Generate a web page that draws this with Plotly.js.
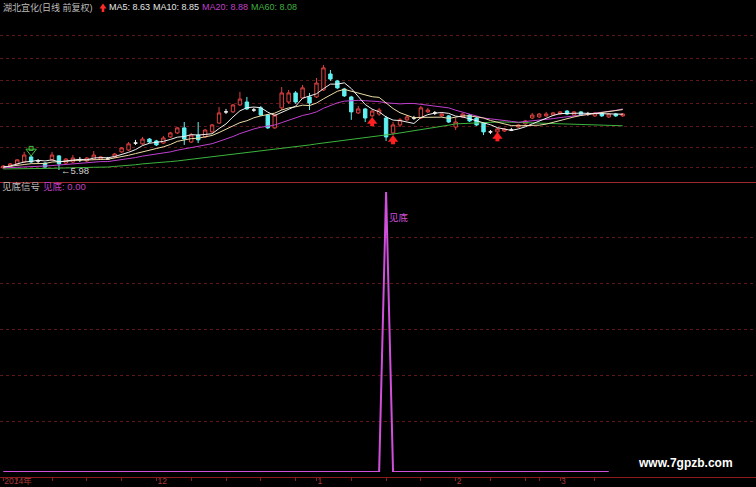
<!DOCTYPE html>
<html>
<head>
<meta charset="utf-8">
<script src="https://cdn.plot.ly/plotly-3.0.1.min.js"></script>
<style>
html, body { margin: 0; padding: 0; background: #000; }
#chart { width: 756px; height: 487px; }
</style>
</head>
<body>
<div id="chart"></div>
<script>
// 湖北宜化 daily bars, 2014-10-30 .. 2015-03-12 (forward adjusted)
const open = [6.08,6.12,6.27,6.36,6.60,6.41,6.31,6.46,6.65,6.31, 6.36,6.46,6.41,6.50,6.50,6.50,6.60,6.84,6.93,7.26,
  7.22,7.45,7.36,7.26,7.55,7.74,7.98,7.31,7.64,7.55, 7.79,8.21,8.74,8.74,9.07,9.21,8.83,8.93,8.59,7.98,
  8.93,9.21,9.64,9.40,9.45,9.45,9.78,10.54,10.21,9.83, 9.45,8.69,8.88,8.55,8.64,8.45,7.74,8.12,8.36,8.45,
  8.45,8.74,8.69,8.55,8.55,8.02,8.50,8.59,8.45,8.21, 7.79,7.79,7.83,7.88,8.02,8.17,8.45,8.50,8.55,8.59,
  8.64,8.78,8.59,8.74,8.64,8.55,8.69,8.50,8.64,8.55];
const high = [6.22,6.31,6.50,6.84,6.69,6.50,6.36,6.84,6.69,6.55, 6.69,6.60,6.60,6.88,6.65,6.60,6.79,7.07,7.31,7.41,
  7.55,7.50,7.41,7.60,7.79,8.02,8.26,7.74,8.26,7.93, 8.17,8.97,8.88,9.12,9.69,9.45,8.93,9.02,8.64,8.64,
  9.92,9.78,9.73,10.02,9.64,10.35,10.97,10.73,10.26,9.88, 9.50,9.02,8.93,8.88,8.93,8.55,8.26,8.45,8.59,8.55,
  9.02,8.93,8.78,8.74,8.59,8.45,8.69,8.64,8.50,8.26, 7.88,7.98,7.98,7.98,8.17,8.36,8.69,8.69,8.74,8.74,
  8.78,8.83,8.78,8.78,8.74,8.74,8.74,8.69,8.69,8.69];
const low = [6.03,6.08,6.22,6.31,6.31,6.31,6.08,6.41,5.98,6.27, 6.31,6.36,6.36,6.46,6.46,6.46,6.55,6.79,6.88,7.17,
  7.17,7.26,7.12,7.22,7.50,7.69,7.17,7.26,7.26,7.50, 7.74,8.17,8.64,8.69,9.02,8.83,8.74,8.55,7.93,7.93,
  8.83,9.12,9.12,9.35,8.83,9.40,9.73,10.21,9.83,9.45, 8.36,8.64,8.26,8.50,8.55,7.36,7.64,8.02,8.31,8.36,
  8.40,8.69,8.59,8.50,8.21,7.88,8.45,8.26,8.07,7.64, 7.69,7.74,7.79,7.83,7.98,8.12,8.40,8.45,8.50,8.55,
  8.59,8.59,8.55,8.55,8.55,8.50,8.50,8.45,8.50,8.50];
const close = [6.17,6.27,6.46,6.69,6.36,6.41,6.12,6.69,6.27,6.50, 6.55,6.46,6.55,6.69,6.60,6.50,6.74,7.03,7.22,7.26,
  7.45,7.31,7.17,7.50,7.74,7.98,7.45,7.64,7.41,7.88, 8.12,8.69,8.74,9.07,9.35,8.88,8.83,8.59,7.98,8.59,
  9.64,9.64,9.21,9.88,9.16,10.11,10.83,10.30,9.88,9.50, 8.74,8.88,8.45,8.78,8.83,7.55,8.12,8.36,8.50,8.45,
  8.93,8.83,8.69,8.64,8.26,8.26,8.64,8.31,8.12,7.79, 7.79,7.93,7.93,7.88,8.12,8.31,8.59,8.64,8.64,8.69,
  8.74,8.64,8.74,8.59,8.64,8.69,8.55,8.64,8.55,8.64];

// moving averages
const ma5 = [6.12,6.17,6.27,6.36,6.39,6.44,6.41,6.46,6.37,6.40, 6.43,6.49,6.46,6.55,6.57,6.56,6.62,6.71,6.82,6.95,
  7.14,7.25,7.28,7.34,7.43,7.54,7.57,7.66,7.64,7.67, 7.70,7.95,8.17,8.50,8.79,8.94,8.97,8.94,8.73,8.57,
  8.73,8.89,9.01,9.39,9.51,9.60,9.84,10.06,10.06,10.12, 9.85,9.46,9.09,8.87,8.74,8.50,8.35,8.33,8.27,8.19,
  8.47,8.61,8.68,8.71,8.67,8.54,8.50,8.42,8.32,8.22, 8.13,7.99,7.91,7.86,7.93,8.03,8.17,8.31,8.46,8.57,
  8.66,8.67,8.69,8.68,8.67,8.66,8.64,8.62,8.61,8.63];
const ma10 = [6.12,6.15,6.19,6.24,6.28,6.28,6.29,6.36,6.37,6.39, 6.43,6.45,6.46,6.46,6.48,6.49,6.55,6.59,6.68,6.76,
  6.85,6.94,7.00,7.08,7.19,7.34,7.41,7.47,7.49,7.55, 7.62,7.76,7.91,8.07,8.23,8.32,8.46,8.55,8.61,8.68,
  8.83,8.93,8.98,9.06,9.04,9.16,9.36,9.53,9.72,9.81, 9.72,9.65,9.57,9.46,9.43,9.17,8.90,8.70,8.57,8.46,
  8.48,8.48,8.50,8.49,8.43,8.50,8.55,8.55,8.51,8.45, 8.33,8.24,8.17,8.09,8.08,8.08,8.08,8.11,8.16,8.25,
  8.35,8.42,8.50,8.57,8.62,8.66,8.70,8.74,8.79,8.85];
const ma20 = [6.08,6.09,6.10,6.11,6.13,6.15,6.17,6.19,6.22,6.24, 6.28,6.30,6.33,6.35,6.38,6.38,6.42,6.47,6.52,6.57,
  6.64,6.69,6.73,6.77,6.84,6.92,6.98,7.03,7.09,7.15, 7.23,7.34,7.45,7.57,7.71,7.83,7.93,8.01,8.05,8.12,
  8.23,8.34,8.45,8.57,8.64,8.74,8.91,9.04,9.17,9.25, 9.28,9.29,9.27,9.26,9.23,9.17,9.13,9.12,9.14,9.14,
  9.10,9.06,9.03,8.97,8.93,8.82,8.73,8.63,8.54,8.45, 8.41,8.36,8.33,8.29,8.25,8.28,8.31,8.35,8.39,8.42,
  8.47,8.50,8.54,8.58,8.62,8.68,8.72,8.77,8.81,8.88];
const ma60 = [6.03,6.03,6.03,6.04,6.04,6.05,6.06,6.06,6.07,6.07, 6.08,6.09,6.10,6.11,6.11,6.12,6.15,6.17,6.20,6.23,
  6.27,6.29,6.32,6.35,6.38,6.41,6.45,6.48,6.52,6.56, 6.60,6.64,6.67,6.71,6.75,6.79,6.83,6.86,6.90,6.94,
  6.98,7.03,7.07,7.12,7.17,7.22,7.26,7.31,7.36,7.41, 7.45,7.49,7.53,7.57,7.60,7.64,7.69,7.74,7.79,7.83,
  7.88,7.94,7.99,8.05,8.11,8.17,8.19,8.21,8.23,8.25, 8.26,8.26,8.26,8.25,8.25,8.24,8.23,8.22,8.21,8.20,
  8.19,8.17,8.16,8.15,8.13,8.12,8.11,8.10,8.09,8.08];

// 见底 indicator (needs two future bars, so it stops two bars early)
const signal = [0,0,0,0,0,0,0,0,0,0, 0,0,0,0,0,0,0,0,0,0, 0,0,0,0,0,0,0,0,0,0,
  0,0,0,0,0,0,0,0,0,0, 0,0,0,0,0,0,0,0,0,0, 0,0,0,0,0,1,0,0,0,0,
  0,0,0,0,0,0,0,0,0,0, 0,0,0,0,0,0,0,0,0,0, 0,0,0,0,0,0,0,0];

// chart marks: red buy arrows (tip level) below bars, green hollow arrow (tip level) above a bar
const buyBars = [53, 56, 71];
const buyArrowTip = [8.36, 7.50, 7.64];
const warnBars = [4];
const warnArrowTip = [6.79];

// date axis: week starts, month labels
const tickBars = [0, 2, 7, 12, 17, 22, 27, 32, 37, 42, 45, 50, 55, 60, 65, 70, 75, 77, 80, 85];
const tickText = ['2014年', '', '', '', '', '12', '', '', '', '', '1', '', '', '', '2', '', '', '', '3', ''];

const FONT = 'Liberation Sans, Noto Sans CJK SC, sans-serif';
const PW = 756, PH = 477;
const px = x => x / PW;
const py = y => (PH - y) / PH;

const bars = open.map((_, i) => i);
const isDoji = i => open[i] === close[i];
const bodyIdx = bars.filter(i => !isDoji(i));
const dojiIdx = bars.filter(isDoji);
const pick = (arr, idx) => idx.map(i => arr[i]);

const UP = '#e04040', DOWN = '#60f0f0';
const ARROW_STEP = 0.12;   // price span of one arrow part

const traces = [
  { type: 'scatter', mode: 'lines', x: bars, y: ma60, line: { color: '#3cb43c', width: 1 }, xaxis: 'x', yaxis: 'y', hoverinfo: 'skip' },
  { type: 'scatter', mode: 'lines', x: bars, y: ma20, line: { color: '#c040d0', width: 1 }, xaxis: 'x', yaxis: 'y', hoverinfo: 'skip' },
  { type: 'scatter', mode: 'lines', x: bars, y: ma10, line: { color: '#ecdca8', width: 1 }, xaxis: 'x', yaxis: 'y', hoverinfo: 'skip' },
  { type: 'scatter', mode: 'lines', x: bars, y: ma5, line: { color: '#f0f0f0', width: 1 }, xaxis: 'x', yaxis: 'y', hoverinfo: 'skip' },
  {
    type: 'candlestick', x: bodyIdx,
    open: pick(open, bodyIdx), high: pick(high, bodyIdx), low: pick(low, bodyIdx), close: pick(close, bodyIdx),
    increasing: { line: { color: UP, width: 1 }, fillcolor: '#000' },
    decreasing: { line: { color: DOWN, width: 1 }, fillcolor: DOWN },
    whiskerwidth: 0, xaxis: 'x', yaxis: 'y', hoverinfo: 'skip'
  },
  {
    type: 'candlestick', x: dojiIdx,
    open: pick(open, dojiIdx), high: pick(high, dojiIdx), low: pick(low, dojiIdx), close: pick(close, dojiIdx),
    increasing: { line: { color: '#f0f0f0', width: 1 }, fillcolor: '#f0f0f0' },
    decreasing: { line: { color: '#f0f0f0', width: 1 }, fillcolor: '#f0f0f0' },
    whiskerwidth: 0, xaxis: 'x', yaxis: 'y', hoverinfo: 'skip'
  },
  // red up arrows: head + shaft
  { type: 'scatter', mode: 'markers', x: buyBars, y: buyArrowTip.map(v => v - ARROW_STEP * 0.6),
    marker: { symbol: 'triangle-up', size: 9, color: '#ff2020', line: { width: 0 } }, xaxis: 'x', yaxis: 'y', hoverinfo: 'skip' },
  { type: 'scatter', mode: 'markers', x: buyBars, y: buyArrowTip.map(v => v - ARROW_STEP * 1.7),
    marker: { symbol: 'square', size: 4, color: '#ff2020', line: { width: 0 } }, xaxis: 'x', yaxis: 'y', hoverinfo: 'skip' },
  // green hollow down arrow: head + shaft
  { type: 'scatter', mode: 'markers', x: warnBars, y: warnArrowTip.map(v => v + ARROW_STEP * 0.6),
    marker: { symbol: 'triangle-down-open', size: 9, color: '#40c040', line: { width: 1, color: '#40c040' } }, xaxis: 'x', yaxis: 'y', hoverinfo: 'skip' },
  { type: 'scatter', mode: 'markers', x: warnBars, y: warnArrowTip.map(v => v + ARROW_STEP * 1.8),
    marker: { symbol: 'square-open', size: 4, color: '#40c040', line: { width: 1, color: '#40c040' } }, xaxis: 'x', yaxis: 'y', hoverinfo: 'skip' },
  {
    type: 'scatter', mode: 'lines', x: bars.slice(0, signal.length), y: signal,
    line: { color: '#d050dc', width: 2 }, xaxis: 'x', yaxis: 'y2', hoverinfo: 'skip'
  }
];

const lowest = Math.min(...low);
const lowBar = low.indexOf(lowest);
const last = a => a[a.length - 1].toFixed(2);

const annotations = [
  { xref: 'paper', yref: 'paper', x: px(1), y: py(7.5), xanchor: 'left', yanchor: 'middle', showarrow: false,
    text: '湖北宜化(日线 前复权)', font: { family: FONT, size: 9, color: '#bcbcbc' } },
  { xref: 'paper', yref: 'paper', x: px(107), y: py(7.5), xanchor: 'left', yanchor: 'middle', showarrow: false,
    text: 'MA5: ' + last(ma5), font: { family: FONT, size: 9, color: '#e6e6e6' } },
  { xref: 'paper', yref: 'paper', x: px(151), y: py(7.5), xanchor: 'left', yanchor: 'middle', showarrow: false,
    text: 'MA10: ' + last(ma10), font: { family: FONT, size: 9, color: '#e6e6e6' } },
  { xref: 'paper', yref: 'paper', x: px(200), y: py(7.5), xanchor: 'left', yanchor: 'middle', showarrow: false,
    text: 'MA20: ' + last(ma20), font: { family: FONT, size: 9, color: '#c040c8' } },
  { xref: 'paper', yref: 'paper', x: px(249), y: py(7.5), xanchor: 'left', yanchor: 'middle', showarrow: false,
    text: 'MA60: ' + last(ma60), font: { family: FONT, size: 9, color: '#40b040' } },
  { xref: 'paper', yref: 'paper', x: px(0), y: py(187), xanchor: 'left', yanchor: 'middle', showarrow: false,
    text: '见底信号', font: { family: FONT, size: 9.5, color: '#bcbcbc' } },
  { xref: 'paper', yref: 'paper', x: px(41), y: py(187), xanchor: 'left', yanchor: 'middle', showarrow: false,
    text: '见底: ' + last(signal), font: { family: FONT, size: 9.5, color: '#c040c8' } },
  { xref: 'x', yref: 'y', x: lowBar, y: lowest, xanchor: 'left', yanchor: 'middle', showarrow: false,
    text: '←' + lowest.toFixed(2), font: { family: FONT, size: 9.5, color: '#d0d0d0' } },
  { xref: 'x', yref: 'y2', x: signal.indexOf(1), y: 0.91, xanchor: 'left', yanchor: 'middle', xshift: 1, showarrow: false,
    text: '见底', font: { family: FONT, size: 9.5, color: '#d050dc' } },
  { xref: 'paper', yref: 'paper', x: px(636), y: py(463), xanchor: 'left', yanchor: 'middle', showarrow: false,
    text: 'www.7gpzb.com', font: { family: FONT, size: 12, color: '#ffffff', weight: 700 } }
];

// small red arrow icon in the title row
const iconPath = [
  'M', px(99.5), py(8.5), 'L', px(103), py(3.5), 'L', px(106.5), py(8.5),
  'L', px(104.3), py(8.5), 'L', px(104.3), py(12), 'L', px(101.7), py(12), 'L', px(101.7), py(8.5), 'Z'
].join(' ');

const gridStyle = { showgrid: true, gridcolor: '#5e1616', griddash: 'dot', gridwidth: 1,
  showticklabels: false, ticks: '', zeroline: false, showline: false, fixedrange: true };

const layout = {
  width: 756, height: 487,
  margin: { l: 0, r: 0, t: 0, b: 10, pad: 0 },
  paper_bgcolor: '#000', plot_bgcolor: '#000',
  showlegend: false,
  boxgap: 0.3,
  xaxis: {
    range: [-0.474, 108.15], anchor: 'free', position: 0,
    showgrid: false, zeroline: false, showline: true, linecolor: '#8c1c1c', linewidth: 1,
    tickmode: 'array', tickvals: tickBars, ticktext: tickText,
    ticks: 'outside', ticklen: 3, tickcolor: '#8c1c1c',
    ticklabelposition: 'outside right', ticklabelstandoff: -4,
    tickfont: { family: FONT, size: 8.5, color: '#a83838' },
    rangeslider: { visible: false }, fixedrange: true
  },
  yaxis: Object.assign({
    domain: [py(183), 1], range: [5.3625, 14.055],
    tickmode: 'array', tickvals: [6.08, 7.07, 8.07, 9.16, 10.21, 11.30, 12.39]
  }, gridStyle),
  yaxis2: Object.assign({
    domain: [py(472), py(185)], range: [0, 1.025],
    tickmode: 'array', tickvals: [0.179, 0.344, 0.509, 0.674, 0.839]
  }, gridStyle),
  shapes: [
    { type: 'rect', xref: 'paper', yref: 'paper', x0: px(428), x1: 1, y0: py(108), y1: 1,
      fillcolor: '#000', line: { width: 0 }, layer: 'between' },
    { type: 'line', xref: 'paper', yref: 'paper', x0: 0, x1: 1, y0: py(182.5), y1: py(182.5),
      line: { color: '#9c2a30', width: 1 } },
    { type: 'path', xref: 'paper', yref: 'paper', path: iconPath,
      fillcolor: '#ff2a2a', line: { width: 0 } }
  ],
  annotations: annotations
};

Plotly.newPlot('chart', traces, layout, { staticPlot: true, displayModeBar: false });
</script>
</body>
</html>
